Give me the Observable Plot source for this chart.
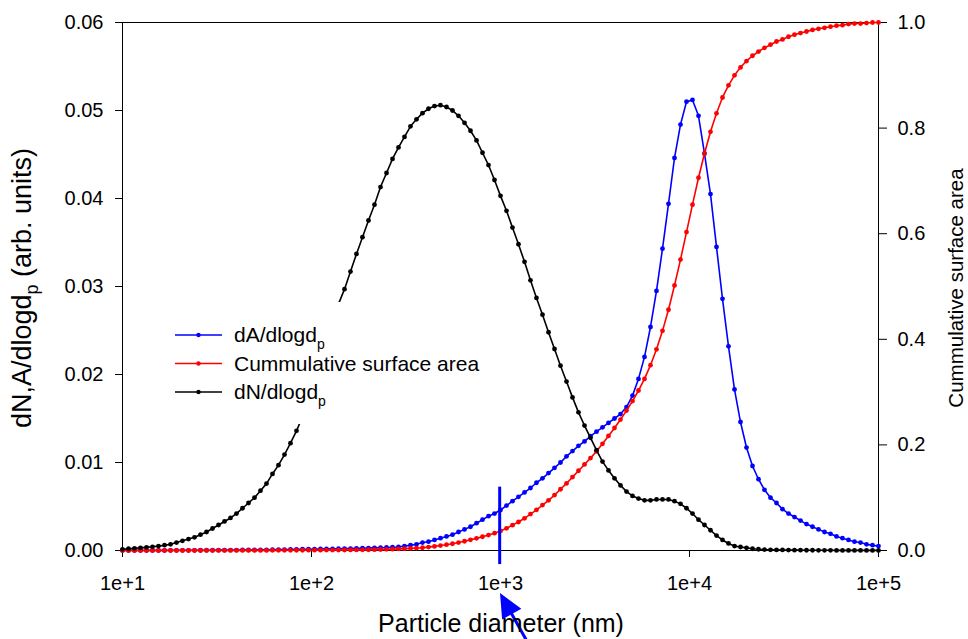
<!DOCTYPE html>
<html><head><meta charset="utf-8">
<script src="https://cdn.jsdelivr.net/npm/d3@7"></script>
<script src="https://cdn.jsdelivr.net/npm/@observablehq/plot@0.6"></script>
<style>
html,body{margin:0;padding:0;background:#fff;}
#chart{width:968px;height:639px;overflow:hidden;}
svg text{font-family:"Liberation Sans",Arial,sans-serif;}
</style></head><body><div id="chart"></div>
<script>
// Particle diameter (nm), log-spaced sample grid
const diameter = [
 10, 10.76, 11.57, 12.45, 13.40, 14.41, 15.50, 16.68, 17.95, 19.31,
 20.77, 22.35, 24.04, 25.86, 27.83, 29.94, 32.21, 34.65, 37.27, 40.10,
 43.14, 46.42, 49.94, 53.72, 57.80, 62.18, 66.89, 71.97, 77.42, 83.29,
 89.61, 96.41, 103.7, 111.6, 120.0, 129.2, 138.9, 149.5, 160.8, 173.0,
 186.1, 200.2, 215.4, 231.8, 249.4, 268.3, 288.6, 310.5, 334.0, 359.4,
 386.6, 415.9, 447.5, 481.4, 517.9, 557.2, 599.5, 644.9, 693.8, 746.5,
 803.1, 863.9, 929.5, 1000, 1076, 1157, 1245, 1340, 1441, 1550,
 1668, 1795, 1931, 2077, 2235, 2404, 2586, 2783, 2994, 3221,
 3465, 3727, 4010, 4314, 4642, 4994, 5372, 5780, 6218, 6689,
 7197, 7742, 8329, 8961, 9641, 10372, 11159, 12005, 12915, 13895,
 14948, 16082, 17301, 18613, 20025, 21544, 23178, 24936, 26827, 28861,
 31049, 33404, 35937, 38662, 41594, 44748, 48144, 51794, 55722, 59947,
 64493, 69384, 74645, 80305, 86395, 92946, 100000
];
// dN/dlogdp (left axis)
const dN = [
 0.00013, 0.0002, 0.00025, 0.0003, 0.00036, 0.00042, 0.0005, 0.0006, 0.0007, 0.0009,
 0.0011, 0.0013, 0.0015, 0.0018, 0.0021, 0.0025, 0.0029, 0.0033, 0.0037, 0.0042,
 0.0048, 0.0054, 0.0060, 0.0068, 0.0076, 0.0087, 0.0097, 0.0109, 0.0122, 0.0136,
 0.0152, 0.0170, 0.0190, 0.0211, 0.0233, 0.0256, 0.0280, 0.0297, 0.0317, 0.0337,
 0.0356, 0.0375, 0.0393, 0.0413, 0.0429, 0.0445, 0.0458, 0.0470, 0.0482, 0.0490,
 0.0497, 0.0502, 0.0505, 0.0506, 0.0504, 0.0500, 0.0494, 0.0486, 0.0477, 0.0466,
 0.0452, 0.0438, 0.0421, 0.0403, 0.0386, 0.0367, 0.0348, 0.0328, 0.0307, 0.0287,
 0.0268, 0.0248, 0.0229, 0.0210, 0.0192, 0.0174, 0.0157, 0.0142, 0.0128, 0.0114,
 0.0101, 0.0091, 0.0082, 0.0074, 0.0067, 0.0062, 0.0059, 0.0057, 0.0057, 0.0058,
 0.0058, 0.0058, 0.0056, 0.0053, 0.0048, 0.0042, 0.0035, 0.0029, 0.0023, 0.0017,
 0.0012, 0.0008, 0.0005, 0.0004, 0.0003, 0.0002, 0.00014, 0.0001, 0.00008, 0.00007,
 0.00006, 0.00005, 0.00004, 0.00004, 0.00003, 0.00003, 0.00002, 0.00002, 0.00002, 0.00001,
 0.00001, 0.00001, 0.00001, 0.00001, 0.00001, 0.00001, 0.00001
];
// dA/dlogdp (left axis)
const dA = [
 0.00001, 0.00001, 0.00001, 0.00001, 0.00001, 0.00001, 0.00001, 0.00001, 0.00002, 0.00002,
 0.00002, 0.00002, 0.00002, 0.00003, 0.00003, 0.00003, 0.00004, 0.00004, 0.00005, 0.00005,
 0.00006, 0.00006, 0.00007, 0.00008, 0.00008, 0.00009, 0.0001, 0.00011, 0.00012, 0.00013,
 0.00014, 0.00015, 0.00016, 0.00017, 0.00018, 0.00019, 0.0002, 0.00021, 0.00022, 0.00024,
 0.00026, 0.00028, 0.0003, 0.00032, 0.00034, 0.00037, 0.0004, 0.0005, 0.0006, 0.0007,
 0.0009, 0.0010, 0.0012, 0.0014, 0.0016, 0.0018, 0.0021, 0.0024, 0.0027, 0.0031,
 0.0035, 0.0039, 0.0042, 0.0046, 0.0051, 0.0056, 0.0061, 0.0066, 0.0071, 0.0077,
 0.0082, 0.0088, 0.0094, 0.0100, 0.0107, 0.0113, 0.0119, 0.0124, 0.0130, 0.0135,
 0.0140, 0.0145, 0.0150, 0.0155, 0.0163, 0.0176, 0.0195, 0.0220, 0.0254, 0.0295,
 0.0343, 0.0394, 0.0446, 0.0484, 0.0510, 0.0512, 0.0494, 0.0451, 0.0405, 0.0345,
 0.0286, 0.0232, 0.0183, 0.0146, 0.0117, 0.0096, 0.0081, 0.0069, 0.0060, 0.0054,
 0.0047, 0.0042, 0.0038, 0.0034, 0.0030, 0.0027, 0.0024, 0.0021, 0.0019, 0.0016,
 0.0014, 0.0012, 0.0010, 0.0009, 0.0007, 0.0006, 0.0005
];
// Cumulative surface area (right axis, 0..1)
const cumArea = [
 0, 0, 0, 0, 0, 0.00001, 0.00001, 0.00001, 0.00002, 0.00002,
 0.00003, 0.00003, 0.00004, 0.00004, 0.00005, 0.00006, 0.00007, 0.00008, 0.00009, 0.00011,
 0.00013, 0.00015, 0.00017, 0.0002, 0.00023, 0.00026, 0.0003, 0.00034, 0.00038, 0.00043,
 0.00048, 0.00054, 0.0006, 0.00066, 0.00073, 0.0008, 0.00088, 0.00096, 0.00104, 0.00112,
 0.0012, 0.0014, 0.0016, 0.0019, 0.0022, 0.0026, 0.0030, 0.0035, 0.0040, 0.0045,
 0.0052, 0.0064, 0.0078, 0.0094, 0.0110, 0.0128, 0.0150, 0.0175, 0.0202, 0.0230,
 0.0260, 0.0292, 0.0328, 0.037, 0.042, 0.048, 0.054, 0.061, 0.069, 0.077,
 0.086, 0.095, 0.105, 0.116, 0.127, 0.139, 0.151, 0.163, 0.175, 0.188,
 0.202, 0.217, 0.232, 0.248, 0.265, 0.283, 0.303, 0.325, 0.351, 0.381,
 0.416, 0.456, 0.502, 0.551, 0.603, 0.655, 0.706, 0.752, 0.793, 0.828,
 0.858, 0.881, 0.900, 0.915, 0.927, 0.937, 0.945, 0.952, 0.958, 0.964,
 0.968, 0.973, 0.977, 0.980, 0.983, 0.986, 0.988, 0.990, 0.992, 0.994,
 0.995, 0.997, 0.998, 0.998, 0.999, 1.0, 1.0
];
const xTicks = [10, 100, 1000, 10000, 100000];
const xTickLabels = ["1e+1", "1e+2", "1e+3", "1e+4", "1e+5"];
const leftTicks = [0, 0.01, 0.02, 0.03, 0.04, 0.05, 0.06];
const rightTicks = [0, 0.2, 0.4, 0.6, 0.8, 1.0];
const leftMax = 0.06, rightMax = 1.0;
// annotations (data coordinates)
const markerX = [990];
const markerY = [-0.0016, 0.0072];
const arrowTail = [1460, -0.0112];
const arrowTip = [1000, -0.0049];
const legendLabels = [["dA/dlogd", "p"], ["Cummulative surface area", ""], ["dN/dlogd", "p"]];
const legendColors = ["#0000ff", "#ff0000", "#000000"];

const k = leftMax / rightMax;
const rows = diameter.map((d, i) => ({d, dN: dN[i], dA: dA[i], cum: cumArea[i] * k}));

const lw = 1.6, dr = 2.4;
const chart = Plot.plot({
  width: 968, height: 639,
  marginLeft: 122, marginRight: 90, marginTop: 22, marginBottom: 89,
  style: {background: "white", color: "black", fontFamily: "'Liberation Sans', Arial, sans-serif"},
  x: {type: "log", domain: [10, 100000]},
  y: {domain: [0, leftMax]},
  marks: [
    Plot.frame({stroke: "black", strokeWidth: 1}),
    Plot.axisX({ticks: xTicks, tickFormat: (d) => xTickLabels[xTicks.indexOf(d)], tickSize: 7, tickPadding: 18, fontSize: 20, label: null}),
    Plot.axisY({ticks: leftTicks, tickFormat: d3.format(".2f"), tickSize: 7, tickPadding: 12, fontSize: 20, label: null}),
    Plot.axisY({anchor: "right", ticks: rightTicks.map(v => v * k), tickFormat: (d) => (d / k).toFixed(1), tickSize: 8, tickPadding: 11, fontSize: 20, label: null}),
    Plot.line(rows, {x: "d", y: "dA", stroke: legendColors[0], strokeWidth: lw}),
    Plot.dot(rows, {x: "d", y: "dA", fill: legendColors[0], r: dr}),
    Plot.line(rows, {x: "d", y: "cum", stroke: legendColors[1], strokeWidth: lw}),
    Plot.dot(rows, {x: "d", y: "cum", fill: legendColors[1], r: dr}),
    Plot.line(rows, {x: "d", y: "dN", stroke: legendColors[2], strokeWidth: lw}),
    Plot.dot(rows, {x: "d", y: "dN", fill: legendColors[2], r: dr}),
    Plot.ruleX(markerX, {x: d => d, y1: markerY[0], y2: markerY[1], stroke: "#0000ff", strokeWidth: 3})
  ]
});
document.getElementById("chart").appendChild(chart);

const svg = d3.select(chart);
const sx = chart.scale("x"), sy = chart.scale("y");

// Arrow below the axis
const tx = sx.apply(arrowTip[0]), ty = sy.apply(arrowTip[1]);
const fx = sx.apply(arrowTail[0]), fy = sy.apply(arrowTail[1]);
const len = Math.hypot(tx - fx, ty - fy), ux = (tx - fx) / len, uy = (ty - fy) / len;
const L = 24, W = 11;
const bx = tx - ux * L, by = ty - uy * L;
svg.append("line").attr("x1", fx).attr("y1", fy).attr("x2", bx + ux * 4).attr("y2", by + uy * 4)
  .attr("stroke", "#0000ff").attr("stroke-width", 3);
svg.append("polygon")
  .attr("points", `${tx},${ty} ${bx - uy * W},${by + ux * W} ${bx + uy * W},${by - ux * W}`)
  .attr("fill", "#0000ff");

// Legend with white background
const lg = svg.append("g");
lg.append("rect").attr("x", 163).attr("y", 302).attr("width", 322).attr("height", 122).attr("fill", "white");
legendLabels.forEach((lab, i) => {
  const y = 335 + i * 28.5;
  lg.append("line").attr("x1", 175).attr("x2", 222).attr("y1", y).attr("y2", y)
    .attr("stroke", legendColors[i]).attr("stroke-width", 1.6);
  lg.append("circle").attr("cx", 198.5).attr("cy", y).attr("r", 2.2).attr("fill", legendColors[i]);
  const t = lg.append("text").attr("x", 234).attr("y", y + 7).attr("text-anchor", "start")
    .attr("font-size", 21).attr("fill", "black").text(lab[0]);
  if (lab[1]) t.append("tspan").attr("font-size", 14).attr("dy", 7).text(lab[1]);
});

// Axis titles
const lt = svg.append("text").attr("transform", "translate(31,288) rotate(-90)")
  .attr("text-anchor", "middle").attr("font-size", 27).attr("fill", "black");
lt.append("tspan").text("dN,A/dlogd");
lt.append("tspan").attr("font-size", 18).attr("dy", 7).text("p");
lt.append("tspan").attr("dy", -7).text(" (arb. units)");

svg.append("text").attr("transform", "translate(963,288) rotate(-90)")
  .attr("text-anchor", "middle").attr("font-size", 20.5).attr("fill", "black")
  .text("Cummulative surface area");

svg.append("text").attr("x", 501).attr("y", 632).attr("text-anchor", "middle")
  .attr("font-size", 25).attr("fill", "black").text("Particle diameter (nm)");
</script></body></html>
